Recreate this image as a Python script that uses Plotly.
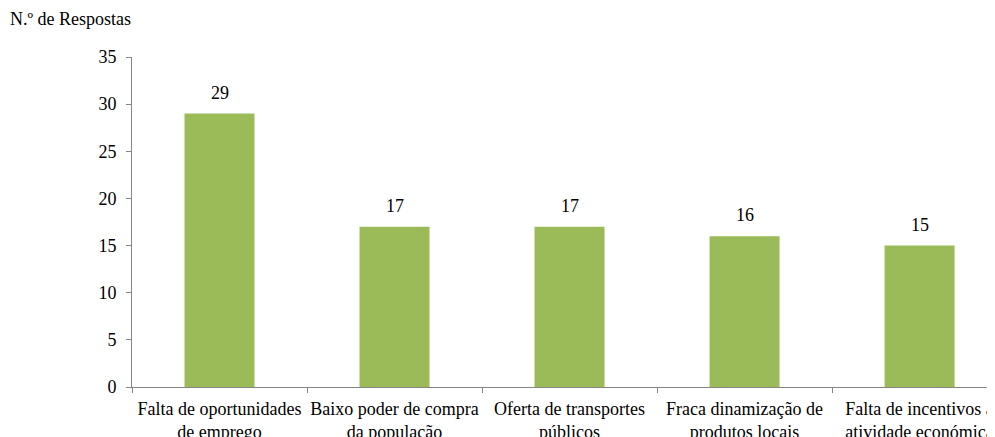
import plotly.graph_objects as go

categories = [
    "Falta de oportunidades<br>de emprego",
    "Baixo poder de compra<br>da população",
    "Oferta de transportes<br>públicos",
    "Fraca dinamização de<br>produtos locais",
    "Falta de incentivos à<br>atividade económica",
]
values = [29, 17, 17, 16, 15]
y_ticks = [0, 5, 10, 15, 20, 25, 30, 35]
y_title = "N.º de Respostas"

font = dict(family="Liberation Serif", size=18, color="#000000")

fig = go.Figure(
    go.Bar(
        x=categories,
        y=values,
        marker=dict(color="#9BBB59", line=dict(width=0)),
        width=0.4,
        cliponaxis=False,
    )
)

annotations = [
    dict(
        x=c, y=v, xref="x", yref="y", text=str(v), showarrow=False,
        yanchor="bottom", yshift=9, font=font,
    )
    for c, v in zip(categories, values)
]
annotations.append(
    dict(
        text=y_title,
        xref="paper",
        yref="paper",
        x=0,
        y=1,
        xanchor="left",
        yanchor="bottom",
        xshift=-124,
        yshift=26,
        showarrow=False,
        font=font,
    )
)

fig.update_layout(
    width=987,
    height=429,
    margin=dict(l=124, r=0, t=49, b=50),
    paper_bgcolor="white",
    plot_bgcolor="white",
    font=font,
    showlegend=False,
    xaxis=dict(
        range=[-0.5, 4.431],
        showline=True,
        linecolor="#868686",
        linewidth=1,
        ticks="outside",
        tickson="boundaries",
        ticklen=5,
        tickcolor="#868686",
        tickangle=0,
        showgrid=False,
        automargin=False,
        tickfont=font,
        ticklabelstandoff=5,
    ),
    yaxis=dict(
        range=[0, 35],
        tickvals=y_ticks,
        showline=True,
        linecolor="#868686",
        linewidth=1,
        ticks="outside",
        ticklen=5,
        tickcolor="#868686",
        showgrid=False,
        zeroline=False,
        automargin=False,
        tickfont=font,
        ticklabelstandoff=6,
    ),
    annotations=annotations,
)

fig.write_html("out.html")
